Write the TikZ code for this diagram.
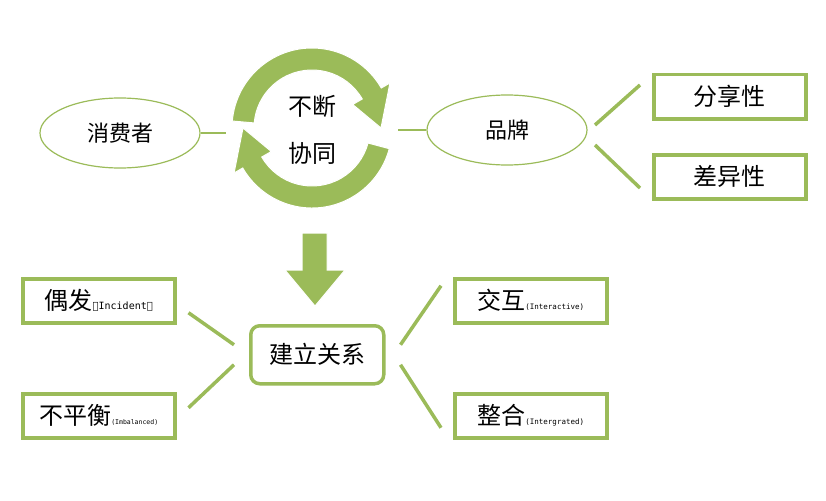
\documentclass[tikz,border=0pt]{standalone}
\usepackage{fontspec}
\setmainfont{Noto Sans CJK SC}
\newfontfamily\enf{DejaVu Sans Mono}
\usetikzlibrary{shapes.geometric,calc}
\definecolor{gr}{HTML}{9BBB59}
\begin{document}
\begin{tikzpicture}[x=1pt,y=-1pt,
  ell/.style={ellipse,draw=gr,line width=1.2pt,minimum width=160pt,minimum height=70pt,font=\fontsize{22}{24}\selectfont},
  bx/.style={draw=gr,line width=3.5pt,fill=white,minimum width=152pt,minimum height=44pt,anchor=north west,inner sep=0pt},
  ln/.style={gr,line width=3.5pt},
  big/.style={font=\fontsize{24}{26}\selectfont}]
\useasboundingbox (0,0) rectangle (826,500);
\fill[white] (0,0) rectangle (826,500);
% ellipses
\node[ell] (c) at (120,133) {消费者};
\node[ell] (b) at (507,130) {品牌};
% cycle
\coordinate (o) at (312,128);
\fill[gr,draw=white,line width=1pt] (o)++(185:80) arc[start angle=185,end angle=330,radius=80]
  -- ++(330:10) -- ($(o)+(360:69)$) -- ($(o)+(330:47)$) -- ($(o)+(330:58)$)
  arc[start angle=330,end angle=185,radius=58] -- cycle;
\fill[gr,draw=white,line width=1pt] (o)++(15:80) arc[start angle=15,end angle=150,radius=80]
  -- ++(150:10) -- ($(o)+(180:69)$) -- ($(o)+(150:47)$) -- ($(o)+(150:58)$)
  arc[start angle=150,end angle=15,radius=58] -- cycle;
\node[big] (t1) at (312,106) {不断};
\node[big] (t2) at (312,153) {协同};
\coordinate (cl) at (226,133);
\coordinate (cr) at (398,130);
\draw[gr,line width=1.2pt] (c.east) -- (cl);
\draw[gr,line width=1.2pt] (cr) -- (b.west);
% down arrow
\fill[gr,draw=white,line width=1pt] (302,233) -- (327,233) -- (327,270) -- (345,270) -- (315,306) -- (285,270) -- (302,270) -- cycle;
% boxes
\node[bx] (f) at (652,73) {\fontsize{24}{26}\selectfont 分享性};
\node[bx] (d) at (652,153) {\fontsize{24}{26}\selectfont 差异性};
\node[bx,rounded corners=9pt,minimum width=133pt,minimum height=58pt] (j) at (249,324) {\fontsize{24}{26}\selectfont 建立关系};
\node[bx] (o1) at (21,277) {\fontsize{24}{26}\selectfont 偶发{\fontsize{10}{11}\enf（Incident）}};
\node[bx] (o2) at (21,392) {\fontsize{24}{26}\selectfont 不平衡{\fontsize{6.5}{7}\enf(Imbalanced)}};
\node[bx] (o3) at (453,277) {\fontsize{24}{26}\selectfont 交互{\fontsize{7.5}{8}\enf(Interactive)}};
\node[bx] (o4) at (453,392) {\fontsize{24}{26}\selectfont 整合{\fontsize{7.5}{8}\enf(Intergrated)}};
% connector ends
\coordinate (b1) at (595,125); \coordinate (f1) at (640,85);
\coordinate (b2) at (595,145); \coordinate (d1) at (640,188);
\draw[ln] (b1) -- (f1);
\draw[ln] (b2) -- (d1);
\draw[ln] ([shift={(12,12)}]o1.east) -- ([shift={(-15,-10)}]j.west);
\draw[ln] ([shift={(12,-8)}]o2.east) -- ([shift={(-15,10)}]j.west);
\draw[ln] ([shift={(-12,-15)}]o3.west) -- ([shift={(15,-10)}]j.east);
\draw[ln] ([shift={(-12,12)}]o4.west) -- ([shift={(15,10)}]j.east);
\end{tikzpicture}
\end{document}
